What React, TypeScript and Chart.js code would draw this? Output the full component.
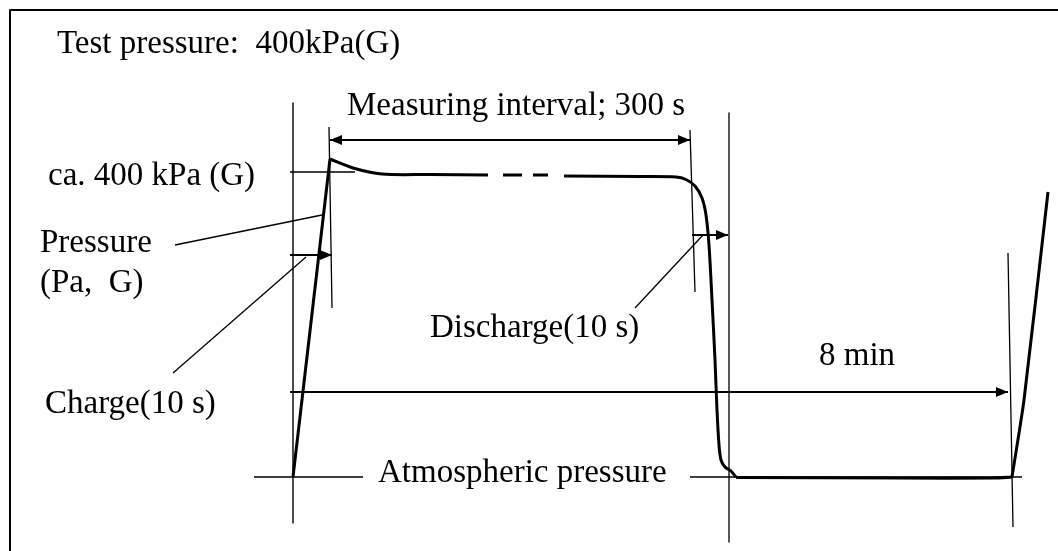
import React, { useEffect, useRef } from "react";
import { Chart, registerables } from "chart.js";

Chart.register(...registerables);

type P = { x: number; y: number };
const pts = (a: number[][]): P[] => a.map(([x, y]) => ({ x, y }));

// Drawing extent (time axis units x, pressure axis units y, y grows downward)
const X_MAX = 1058;
const Y_MAX = 551;

// Pressure trace (thick line)
const chargeRamp = [[293, 477], [330, 159]];
const pressureDecay = [[330, 159], [353, 168], [382, 174], [430, 174.5], [488, 175]];
const pressureDashed = [[503, 175], [548, 175]];
const pressureHold = [
  [564, 176], [640, 176.5], [676, 177], [686, 179.5], [695, 186], [702, 198], [706, 215],
  [709, 245], [712, 300], [715, 360], [717, 410], [719, 445], [721, 460], [725, 467],
  [731, 471], [736, 477],
];
const atmosphericHold = [[736, 477.5], [900, 478], [994, 478], [1012, 477]];
const rechargeRamp = [[1012, 477], [1024, 400], [1048, 192]];

// Reference lines (thin)
const pressureAxis = [[293, 103], [293, 523]];
const level400 = [[290, 172], [355, 172]];
const atmosphericLeft = [[254, 477], [363, 477]];
const atmosphericRight = [[690, 477], [1022, 477]];
const chargeEndMark = [[329, 127], [332, 308]];
const measureEndMark = [[690, 130], [695, 292]];
const dischargeEndMark = [[729, 113], [729, 542]];
const cycleEndMark = [[1008, 253], [1013, 527]];
const pressureLeader = [[175, 245], [322, 215]];
const chargeLeader = [[173, 373], [306, 257]];
const dischargeLeader = [[635, 308], [703, 235]];
const frame = [[10, 551], [10, 10], [1058, 10]];

// Dimension arrows: [x1, y1, x2, y2, headAtStart(0/1)]
const measureArrow = [330, 140, 690, 140, 1];
const chargeArrow = [290, 255, 332, 255, 0];
const dischargeArrow = [692, 235, 728, 235, 0];
const cycleArrow = [290, 392, 1008, 392, 0];
const arrows = [measureArrow, chargeArrow, dischargeArrow, cycleArrow];

// Labels
const labelTexts = [
  "Test pressure:  400kPa(G)",
  "Measuring interval; 300 s",
  "ca. 400 kPa (G)",
  "Pressure",
  "(Pa,  G)",
  "Charge(10 s)",
  "Discharge(10 s)",
  "8 min",
  "Atmospheric pressure",
];
const labelAnchors = [
  [57, 53], [347, 115], [48, 185], [40, 252], [40, 292], [45, 413], [430, 337], [819, 365], [378, 482],
];

const FONT = "33px 'Liberation Serif', 'Times New Roman', serif";

export default function App() {
  const ref = useRef<HTMLCanvasElement | null>(null);

  useEffect(() => {
    document.body.style.margin = "0";
    const canvas = ref.current;
    if (!canvas) return;

    const line = (data: number[][], width: number, extra: any = {}) => ({
      data: pts(data),
      showLine: true,
      borderColor: "#000",
      backgroundColor: "#000",
      borderWidth: width,
      pointRadius: 0,
      pointHoverRadius: 0,
      tension: 0,
      fill: false,
      borderCapStyle: "butt",
      borderJoinStyle: "round",
      ...extra,
    });

    const datasets: any[] = [
      line(frame, 2),
      line(pressureAxis, 1.4),
      line(level400, 1.4),
      line(atmosphericLeft, 1.4),
      line(atmosphericRight, 1.4),
      line(chargeEndMark, 1.3),
      line(measureEndMark, 1.3),
      line(dischargeEndMark, 1.3),
      line(cycleEndMark, 1.3),
      line(pressureLeader, 1.3),
      line(chargeLeader, 1.3),
      line(dischargeLeader, 1.3),
      ...arrows.map((a) => line([[a[0], a[1]], [a[2], a[3]]], 2)),
      line(chargeRamp, 3),
      line(pressureDecay, 3, { tension: 0.3 }),
      line(pressureDashed, 3, { borderDash: [19, 11] }),
      line(pressureHold, 3, { tension: 0.3 }),
      line(atmosphericHold, 3.2, { tension: 0.3 }),
      line(rechargeRamp, 3, { tension: 0.2 }),
    ];

    const annotate = {
      id: "annotate",
      afterDatasetsDraw(chart: any) {
        const { ctx, scales } = chart;
        const px = (v: number) => scales.x.getPixelForValue(v);
        const py = (v: number) => scales.y.getPixelForValue(v);
        ctx.save();
        ctx.fillStyle = "#000";
        const head = (tx: number, ty: number, fx: number, fy: number) => {
          const ang = Math.atan2(ty - fy, tx - fx);
          const L = 12;
          const W = 5;
          const bx = tx - L * Math.cos(ang);
          const by = ty - L * Math.sin(ang);
          ctx.beginPath();
          ctx.moveTo(tx, ty);
          ctx.lineTo(bx + W * Math.sin(ang), by - W * Math.cos(ang));
          ctx.lineTo(bx - W * Math.sin(ang), by + W * Math.cos(ang));
          ctx.closePath();
          ctx.fill();
        };
        arrows.forEach((a) => {
          const x1 = px(a[0]), y1 = py(a[1]), x2 = px(a[2]), y2 = py(a[3]);
          head(x2, y2, x1, y1);
          if (a[4]) head(x1, y1, x2, y2);
        });
        ctx.font = FONT;
        ctx.textAlign = "left";
        ctx.textBaseline = "alphabetic";
        labelTexts.forEach((t, i) => {
          ctx.fillText(t, px(labelAnchors[i][0]), py(labelAnchors[i][1]));
        });
        ctx.restore();
      },
    };

    const chart = new Chart(canvas, {
      type: "scatter",
      data: { datasets },
      options: {
        animation: false,
        responsive: false,
        events: [],
        layout: { padding: 0 },
        plugins: { legend: { display: false }, tooltip: { enabled: false } },
        scales: {
          x: { type: "linear", min: 0, max: X_MAX, display: false },
          y: { type: "linear", min: 0, max: Y_MAX, reverse: true, display: false },
        },
      },
      plugins: [annotate],
    } as any);

    return () => chart.destroy();
  }, []);

  return (
    <div style={{ position: "absolute", left: 0, top: 0, width: X_MAX, height: Y_MAX, background: "#fff" }}>
      <canvas ref={ref} width={X_MAX} height={Y_MAX} style={{ display: "block" }} />
    </div>
  );
}
